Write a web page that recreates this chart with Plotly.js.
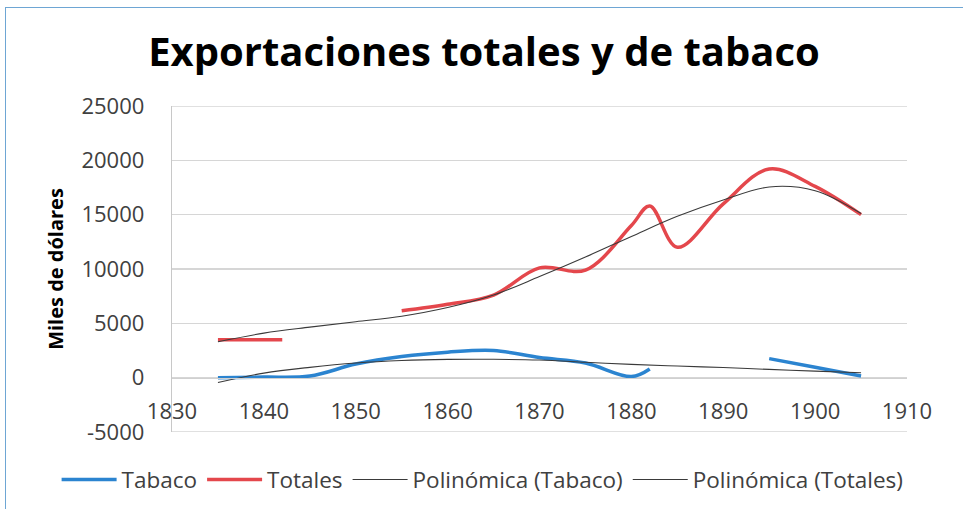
<!DOCTYPE html>
<html>
<head>
<meta charset="utf-8">
<script src="https://cdn.plot.ly/plotly-3.0.1.min.js"></script>
<style>
  html, body { margin:0; padding:0; background:#ffffff; overflow:hidden; }
  #frame { position:absolute; left:5px; top:7px; width:2000px; height:2000px;
           border-left:1.5px solid #6ea6d4; border-top:1.5px solid #6ea6d4; }
  #chart { position:absolute; left:0; top:0; width:963px; height:509px; }
</style>
</head>
<body>
<div id="frame"></div>
<div id="chart"></div>
<script>
// ---- data ----
const tabacoYears  = [1835, 1840, 1845, 1850, 1855, 1860, 1865, 1870, 1875, 1880, 1882, 1890, 1895, 1900, 1905];
const tabacoValues = [0,    50,   150,  1250, 1950, 2350, 2500, 1850, 1350, 100,  800,  null, 1750, 950,  150];

const totalesYears  = [1835, 1842, 1850, 1855, 1860, 1865, 1870, 1875, 1880, 1882, 1885, 1890, 1895, 1900, 1905];
const totalesValues = [3500, 3500, null, 6150, 6750, 7600, 10100, 9900, 14000, 15800, 12000, 16000, 19200, 17600, 15000];

const trendYears   = [1835, 1840, 1845, 1850, 1855, 1860, 1865, 1870, 1875, 1880, 1885, 1890, 1895, 1900, 1905];
const trendTabaco  = [-450, 420,  950,  1350, 1580, 1680, 1690, 1620, 1420, 1220, 1070, 930,  760,  600,  450];
const trendTotales = [3300, 4100, 4650, 5150, 5650, 6450, 7600, 9300, 11100, 13000, 14850, 16350, 17550, 17200, 15100];

const seriesNames = ['Tabaco', 'Totales', 'Polinómica (Tabaco)', 'Polinómica (Totales)'];

const xTickVals   = [1830, 1840, 1850, 1860, 1870, 1880, 1890, 1900, 1910];
const xTickLabels = ['1830', '1840', '1850', '1860', '1870', '1880', '1890', '1900', '1910'];
const yTickVals   = [-5000, 0, 5000, 10000, 15000, 20000, 25000];
const yTickLabels = ['-5000', '0', '5000', '10000', '15000', '20000', '25000'];

const titleText  = 'Exportaciones totales y de tabaco';
const yTitleText = 'Miles de dólares';

// ---- chart ----
const FONT = 'Open Sans, DejaVu Sans, sans-serif';
const GRID = '#d6d6d6';

const traces = [
  { x: tabacoYears, y: tabacoValues, name: seriesNames[0], type: 'scatter', mode: 'lines',
    line: { color: '#2b84d0', width: 3.5, shape: 'spline' }, connectgaps: false },
  { x: totalesYears, y: totalesValues, name: seriesNames[1], type: 'scatter', mode: 'lines',
    line: { color: '#e4474c', width: 3.5, shape: 'spline' }, connectgaps: false },
  { x: trendYears, y: trendTabaco, name: seriesNames[2], type: 'scatter', mode: 'lines',
    line: { color: '#3a3a3a', width: 1.1, shape: 'spline' } },
  { x: trendYears, y: trendTotales, name: seriesNames[3], type: 'scatter', mode: 'lines',
    line: { color: '#3a3a3a', width: 1.1, shape: 'spline' } }
];

// gridlines at the two ends of the value axis (Plotly omits them at the range edges)
const edgeValues = [yTickVals[0], yTickVals[yTickVals.length - 1]];
const edgeGrid = edgeValues.map(v => ({
  type: 'line', xref: 'paper', yref: 'y', x0: 0, x1: 1, y0: v, y1: v,
  line: { color: GRID, width: 1.3 }, layer: 'below'
}));

const layout = {
  width: 963, height: 509,
  margin: { l: 172, r: 56, t: 106, b: 77, pad: 0, autoexpand: false },
  paper_bgcolor: 'rgba(0,0,0,0)',
  plot_bgcolor: 'rgba(0,0,0,0)',
  font: { family: FONT, color: '#404040', size: 22 },
  showlegend: true,
  shapes: edgeGrid,
  title: {
    text: '<b>' + titleText + '</b>',
    font: { family: FONT, size: 40, color: '#000000' },
    xref: 'container', x: 0.5026, xanchor: 'center',
    yref: 'container', y: 0.897, yanchor: 'middle'
  },
  xaxis: {
    range: [1830, 1910],
    tickmode: 'array', tickvals: xTickVals, ticktext: xTickLabels,
    anchor: 'free', position: 1/6,
    showgrid: false, zeroline: false,
    showline: true, linecolor: '#d0d0d0', linewidth: 1,
    ticks: 'outside', ticklen: 14, tickcolor: 'rgba(0,0,0,0)',
    tickfont: { family: FONT, size: 22, color: '#404040' },
    fixedrange: true
  },
  yaxis: {
    range: [-5000, 25000],
    tickmode: 'array', tickvals: yTickVals, ticktext: yTickLabels,
    showgrid: true, gridcolor: GRID, gridwidth: 1.3,
    zeroline: false,
    showline: true, linecolor: '#c8c8c8', linewidth: 1.3,
    ticks: 'outside', ticklen: 22, tickcolor: 'rgba(0,0,0,0)',
    tickfont: { family: FONT, size: 22, color: '#404040' },
    title: { text: '<b>' + yTitleText + '</b>', font: { family: FONT, size: 20, color: '#000000' }, standoff: 12 },
    fixedrange: true
  },
  legend: {
    orientation: 'h',
    xref: 'paper', x: -0.157, xanchor: 'left',
    yref: 'paper', y: -0.147, yanchor: 'middle',
    font: { family: FONT, size: 22.5, color: '#404040' },
    bgcolor: 'rgba(0,0,0,0)',
    itemwidth: 55,
    tracegroupgap: 0
  }
};

Plotly.newPlot('chart', traces, layout, { staticPlot: true, displayModeBar: false });
</script>
</body>
</html>
